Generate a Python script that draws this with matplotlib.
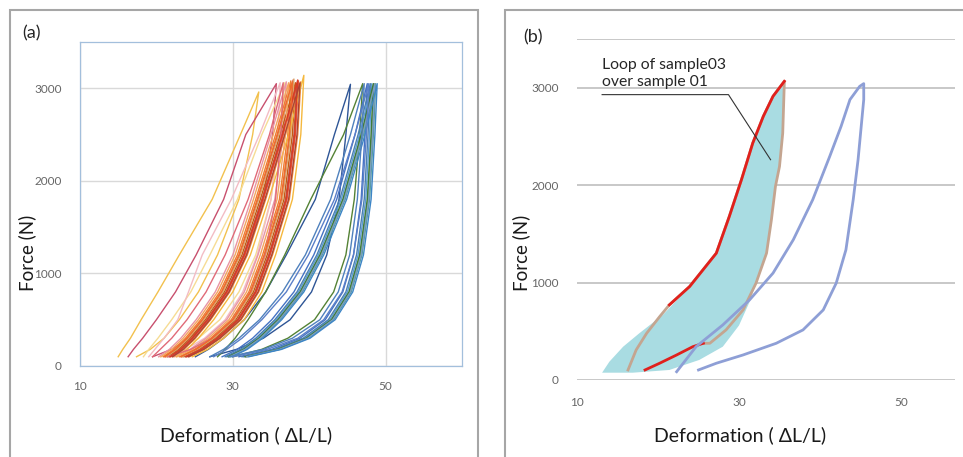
import matplotlib.pyplot as plt
from matplotlib.patches import Rectangle

plt.rcParams['font.family'] = ['Lato', 'DejaVu Sans']

# ---- panel (a): hysteresis loops, x of each branch read at fixed force levels
y_levels = [100, 180, 300, 500, 800, 1200, 1800, 2500]

warm_colors = ['#f2c14e', '#c8506e', '#f6dc94', '#f3bcc4', '#e895a4', '#ed7d31',
               '#e04a30', '#c55a11', '#dba36a', '#ea5b3a', '#f08a3c', '#f5b83d',
               '#b9553f', '#f4a460', '#e06a78', '#d83a26', '#ef6c2c', '#a94436']
warm_left = [
    [15.0, 15.6, 16.6, 18.0, 20.2, 23.0, 27.3, 31.0],
    [16.3, 17.0, 18.2, 20.0, 22.5, 25.2, 28.8, 31.7],
    [18.3, 19.0, 20.2, 22.0, 24.5, 27.0, 30.6, 33.8],
    [19.0, 19.8, 21.0, 22.8, 24.2, 26.0, 29.8, 33.5],
    [20.3, 21.7, 23.2, 25.2, 27.7, 30.0, 32.4, 35.0],
    [20.9, 22.3, 23.8, 25.8, 28.3, 30.6, 33.0, 35.6],
    [21.2, 22.6, 24.1, 26.1, 28.6, 30.9, 33.3, 35.9],
    [21.5, 22.9, 24.4, 26.4, 28.9, 31.2, 33.6, 36.2],
    [21.3, 22.7, 24.2, 26.2, 28.7, 31.0, 33.4, 36.0],
    [21.9, 23.3, 24.8, 26.8, 29.3, 31.6, 34.0, 36.6],
    [22.2, 23.6, 25.1, 27.1, 29.6, 31.9, 34.3, 36.9],
    [22.6, 24.0, 25.5, 27.5, 30.0, 32.3, 34.7, 37.3],
    [21.7, 23.1, 24.6, 26.6, 29.1, 31.4, 33.8, 36.4],
    [20.6, 22.0, 23.5, 25.5, 28.0, 30.3, 32.7, 35.3],
    [19.5, 20.5, 22.0, 24.0, 26.5, 29.0, 32.0, 34.8],
    [21.8, 23.2, 24.7, 26.7, 29.2, 31.5, 33.9, 36.5],
    [21.1, 22.5, 24.0, 26.0, 28.5, 30.8, 33.2, 35.8],
    [22.1, 23.5, 25.0, 27.0, 29.5, 31.8, 34.2, 36.8],
]
warm_peak_x = [33.4, 35.7, 36.8, 36.2, 37.0, 37.6, 37.9, 38.2, 38.0, 38.6, 38.9, 39.3,
               38.4, 37.3, 36.6, 38.5, 37.8, 38.8]
warm_peak_y = [2960, 3050, 3060, 3060, 3070, 3080, 3090, 3060, 3100, 3080, 3070, 3140,
               3050, 3060, 3060, 3090, 3070, 3060]
warm_right = [
    [17.4, 19.2, 21.0, 23.0, 25.5, 28.0, 30.8, 32.6],
    [19.5, 22.0, 24.3, 27.0, 29.5, 31.8, 34.0, 35.2],
    [20.5, 23.0, 25.5, 28.3, 30.8, 33.0, 35.0, 36.2],
    [21.0, 23.8, 26.3, 29.0, 31.3, 33.2, 35.0, 35.9],
    [22.4, 24.4, 26.5, 29.2, 31.5, 33.3, 35.5, 36.6],
    [23.0, 25.0, 27.1, 29.8, 32.1, 33.9, 36.1, 37.2],
    [23.3, 25.3, 27.4, 30.1, 32.4, 34.2, 36.4, 37.5],
    [23.6, 25.6, 27.7, 30.4, 32.7, 34.5, 36.7, 37.8],
    [23.4, 25.4, 27.5, 30.2, 32.5, 34.3, 36.5, 37.6],
    [24.0, 26.0, 28.1, 30.8, 33.1, 34.9, 37.1, 38.2],
    [24.3, 26.3, 28.4, 31.1, 33.4, 35.2, 37.4, 38.5],
    [24.7, 26.7, 28.8, 31.5, 33.8, 35.6, 37.8, 38.9],
    [23.8, 25.8, 27.9, 30.6, 32.9, 34.7, 36.9, 38.0],
    [22.7, 24.7, 26.8, 29.5, 31.8, 33.6, 35.8, 36.9],
    [21.5, 24.5, 27.3, 30.0, 32.3, 34.2, 35.6, 36.3],
    [23.9, 25.9, 28.0, 30.7, 33.0, 34.8, 37.0, 38.1],
    [23.2, 25.2, 27.3, 30.0, 32.3, 34.1, 36.3, 37.4],
    [24.2, 26.2, 28.3, 31.0, 33.3, 35.1, 37.3, 38.4],
]

cool_colors = ['#2e5596', '#548235', '#4472c4', '#5b9bd5', '#6a9a4a', '#4b9a9a',
               '#4a7fb0', '#3f7a3a', '#7a9cc0', '#3d85c6', '#5a7fc8', '#4f81bd']
cool_left = [
    [25.1, 26.8, 28.8, 31.5, 34.3, 37.0, 40.8, 43.3],
    [28.0, 29.0, 30.3, 32.0, 34.3, 36.8, 40.2, 44.5],
    [28.6, 30.6, 32.6, 35.1, 38.0, 40.6, 43.6, 46.0],
    [29.2, 31.2, 33.2, 35.7, 38.6, 41.2, 44.2, 46.6],
    [29.5, 31.5, 33.5, 36.0, 38.9, 41.5, 44.5, 46.9],
    [29.7, 31.7, 33.7, 36.2, 39.1, 41.7, 44.7, 47.1],
    [29.0, 31.0, 33.0, 35.5, 38.4, 41.0, 44.0, 46.4],
    [29.4, 31.4, 33.4, 35.9, 38.8, 41.4, 44.4, 46.8],
    [29.6, 31.6, 33.6, 36.1, 39.0, 41.6, 44.6, 47.0],
    [29.9, 31.9, 33.9, 36.4, 39.3, 41.9, 44.9, 47.3],
    [27.5, 29.2, 31.2, 33.8, 37.0, 39.9, 43.3, 46.0],
    [27.0, 28.8, 30.8, 33.5, 36.5, 39.5, 42.8, 45.4],
]
cool_peak_x = [45.4, 47.0, 47.6, 48.2, 48.5, 48.7, 48.0, 48.4, 48.6, 48.9, 47.8, 47.2]
cool_peak_y = [3043, 3050, 3050, 3050, 3050, 3050, 3050, 3050, 3050, 3050, 3050, 3050]
cool_right = [
    [27.0, 30.5, 34.0, 37.5, 40.3, 42.3, 43.9, 44.8],
    [30.0, 33.8, 37.2, 40.7, 43.2, 44.8, 45.9, 46.6],
    [30.8, 35.1, 38.8, 42.1, 44.4, 45.8, 46.8, 47.3],
    [31.4, 35.7, 39.4, 42.7, 45.0, 46.4, 47.4, 47.9],
    [31.7, 36.0, 39.7, 43.0, 45.3, 46.7, 47.7, 48.2],
    [31.9, 36.2, 39.9, 43.2, 45.5, 46.9, 47.9, 48.4],
    [31.2, 35.5, 39.2, 42.5, 44.8, 46.2, 47.2, 47.7],
    [31.6, 35.9, 39.6, 42.9, 45.2, 46.6, 47.6, 48.1],
    [31.8, 36.1, 39.8, 43.1, 45.4, 46.8, 47.8, 48.3],
    [32.1, 36.4, 40.1, 43.4, 45.7, 47.1, 48.1, 48.6],
    [30.0, 34.5, 38.5, 41.9, 44.3, 45.8, 46.9, 47.5],
    [29.5, 34.0, 37.8, 41.4, 43.8, 45.3, 46.3, 46.9],
]

# ---- panel (b): sample loops
fill_x = [13.1, 14.0, 15.7, 17.7, 20.6, 23.9, 27.2, 28.8, 30.3, 31.7, 33.0, 34.2, 35.6,
          35.4, 35.0, 34.5, 34.0, 33.4, 32.1, 31.3, 30.0, 28.0, 25.1, 21.4, 16.9]
fill_y = [75, 188, 342, 480, 668, 959, 1302, 1678, 2055, 2432, 2706, 2912, 3066,
          2535, 2192, 1987, 1644, 1302, 994, 800, 560, 342, 206, 103, 75]
brown_x = [16.3, 17.3, 18.6, 20.2, 21.4, 23.9, 27.2, 28.8, 30.3, 31.7, 33.0, 34.2, 35.6,
           35.4, 35.0, 34.5, 34.0, 33.4, 32.1, 30.5, 28.4, 26.4, 25.6]
brown_y = [103, 308, 480, 650, 771, 959, 1302, 1678, 2055, 2432, 2706, 2912, 3066,
           2535, 2192, 1987, 1644, 1302, 994, 719, 514, 377, 377]
red_low_x = [18.4, 20.2, 22.3, 24.3, 25.6]
red_low_y = [103, 172, 257, 342, 377]
red_up_x = [21.4, 23.9, 27.2, 28.8, 30.3, 31.7, 33.0, 34.2, 35.6]
red_up_y = [771, 959, 1302, 1678, 2055, 2432, 2706, 2912, 3066]
blue_x = [22.3, 24.7, 28.0, 31.3, 34.2, 36.7, 39.1, 41.2, 42.6, 43.7, 44.9, 45.4,
          45.4, 44.7, 44.1, 43.2, 42.0, 40.4, 37.9, 34.6, 30.5, 27.2, 25.0]
blue_y = [85, 342, 565, 822, 1097, 1439, 1850, 2295, 2603, 2878, 3014, 3042,
          2878, 2261, 1850, 1336, 994, 719, 514, 377, 257, 172, 103]
note_x = [13.1, 28.7, 33.9]
note_y = [2929, 2929, 2261]

W, H = 963, 457
fig = plt.figure(figsize=(W / 100, H / 100), dpi=100)

# panel frames
for x0, x1 in [(10, 478), (505, 975)]:
    fig.patches.append(Rectangle((x0 / W, -0.05), (x1 - x0) / W, (H - 10) / H + 0.05,
                                 transform=fig.transFigure, fill=False,
                                 edgecolor='#a6a6a6', linewidth=1.5))

tick_color = '#666666'

# (a)
ax = fig.add_axes([80 / W, (H - 366) / H, 382 / W, 324 / H])
ax.set_xlim(10, 60)
ax.set_ylim(0, 3500)
ax.set_xticks([10, 30, 50])
ax.set_yticks([0, 1000, 2000, 3000])
ax.grid(True, color='#d9d9d9', linewidth=1.0)
ax.set_axisbelow(True)
for s in ax.spines.values():
    s.set_color('#a3bfdc')
    s.set_linewidth(0.9)
ax.tick_params(length=0, labelsize=8.5, labelcolor=tick_color)
ax.tick_params(axis='y', pad=13)
ax.tick_params(axis='x', pad=11)

def loop(left, px, py, right):
    xs = list(left) + [px] + list(right)[::-1]
    ys = y_levels + [py] + y_levels[::-1]
    return xs, ys

for c, l, px, py, r in zip(cool_colors, cool_left, cool_peak_x, cool_peak_y, cool_right):
    xs, ys = loop(l, px, py, r)
    ax.plot(xs, ys, color=c, linewidth=1.0)
for c, l, px, py, r in zip(warm_colors, warm_left, warm_peak_x, warm_peak_y, warm_right):
    xs, ys = loop(l, px, py, r)
    ax.plot(xs, ys, color=c, linewidth=1.0)

# (b)
bx = fig.add_axes([577 / W, (H - 380) / H, 378 / W, 341 / H])
bx.set_xlim(10, 10 + 378 / 8.1)
bx.set_ylim(0, 3500)
bx.set_xticks([10, 30, 50])
bx.set_yticks([0, 1000, 2000, 3000, 3500])
bx.set_yticklabels(['0', '1000', '2000', '3000', ''])
bx.yaxis.grid(True, color='#bfbfbf', linewidth=1.2)
bx.set_axisbelow(True)
for s in bx.spines.values():
    s.set_visible(False)
bx.tick_params(length=0, labelsize=8.5, labelcolor=tick_color)
bx.tick_params(axis='y', pad=13)
bx.tick_params(axis='x', pad=12)

bx.fill(fill_x, fill_y, color='#a9dce2', linewidth=0)
bx.plot(brown_x, brown_y, color='#c4a590', linewidth=2.0)
bx.plot(red_low_x, red_low_y, color='#e0201c', linewidth=2.0)
bx.plot(red_up_x, red_up_y, color='#e0201c', linewidth=2.0)
bx.plot(blue_x, blue_y, color='#8e9fd6', linewidth=2.0)
bx.plot(note_x, note_y, color='#333333', linewidth=0.8)
bx.text(13.1, 2985, 'Loop of sample03\nover sample 01', fontsize=11.3,
        color='#262626', va='bottom', ha='left', linespacing=1.3)

# labels
label_kw = dict(fontsize=13.5, color='#1a1a1a')
fig.text(22 / W, 1 - 33 / H, '(a)', ha='left', va='center', fontsize=13, color='#262626')
fig.text(523 / W, 1 - 37 / H, '(b)', ha='left', va='center', fontsize=13, color='#262626')
fig.text(27 / W, 1 - 253 / H, 'Force (N)', rotation=90, ha='center', va='center', **label_kw)
fig.text(521 / W, 1 - 253 / H, 'Force (N)', rotation=90, ha='center', va='center', **label_kw)
fig.text(246 / W, 1 - 435 / H, 'Deformation ( ΔL/L)', ha='center', va='center', fontsize=14, color='#1a1a1a')
fig.text(740 / W, 1 - 435 / H, 'Deformation ( ΔL/L)', ha='center', va='center', fontsize=14, color='#1a1a1a')

fig.savefig('out.png', dpi=100)
